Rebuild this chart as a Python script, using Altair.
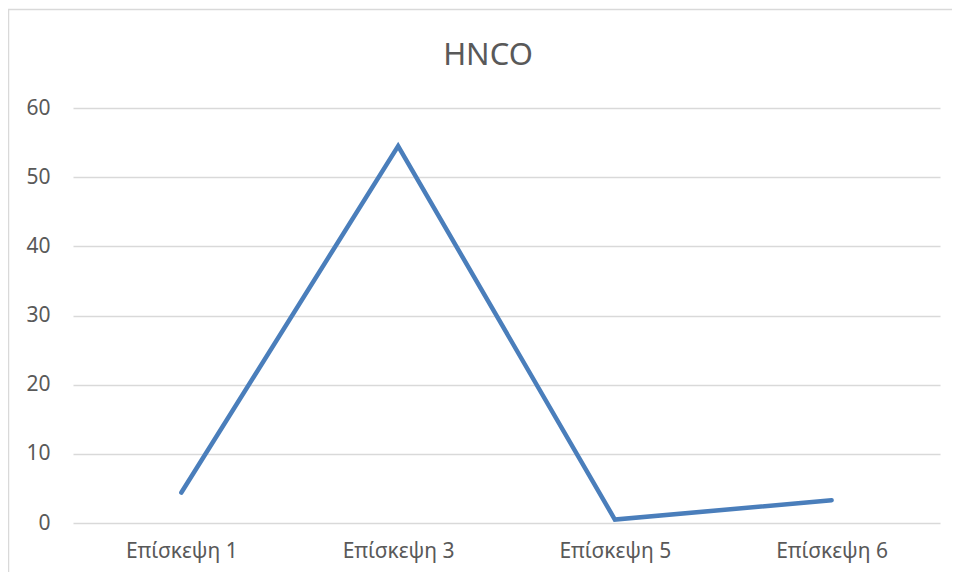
import altair as alt
import pandas as pd

categories = ["Επίσκεψη 1", "Επίσκεψη 3", "Επίσκεψη 5", "Επίσκεψη 6"]
values = [4.4, 54.5, 0.5, 3.3]
title_text = "HNCO"

df = pd.DataFrame({"visit": categories, "value": values})
FONT = "Noto Sans"
GRAY = "#595959"

border = alt.Chart(pd.DataFrame({"a": [0]})).mark_rect(
    fill="white", fillOpacity=0, stroke="#d9d9d9", strokeWidth=1.5
).encode(
    x=alt.value(-64.5), x2=alt.value(960), y=alt.value(-98.5), y2=alt.value(600)
)

title = alt.Chart(pd.DataFrame({"t": [title_text]})).mark_text(
    font=FONT, fontSize=31, color=GRAY, align="center", baseline="middle"
).encode(text="t:N", x=alt.value(415), y=alt.value(-52))

line = alt.Chart(df).mark_line(
    color="#4a7ebb", strokeWidth=4.5, strokeCap="round", strokeJoin="miter"
).encode(
    x=alt.X("visit:N", sort=categories, title=None,
            axis=alt.Axis(labelAngle=0, domain=False, ticks=False, grid=False,
                          labelFont=FONT, labelFontSize=21, labelColor=GRAY,
                          labelPadding=17)),
    y=alt.Y("value:Q", title=None,
            scale=alt.Scale(domain=[0, 60], nice=False),
            axis=alt.Axis(values=[0, 10, 20, 30, 40, 50, 60], domain=False, ticks=False,
                          gridColor="#d9d9d9", gridWidth=1.5,
                          labelFont=FONT, labelFontSize=21, labelColor=GRAY,
                          labelPadding=23)),
)

chart = alt.layer(border, title, line).properties(
    width=867, height=415,
    autosize=alt.AutoSizeParams(type="none"),
    padding={"left": 65, "top": 100, "right": 12, "bottom": 49},
).configure_view(stroke=None).configure_scale(bandPaddingInner=0, bandPaddingOuter=0)

chart.save("out.html", embed_options={"renderer": "svg", "actions": False})
